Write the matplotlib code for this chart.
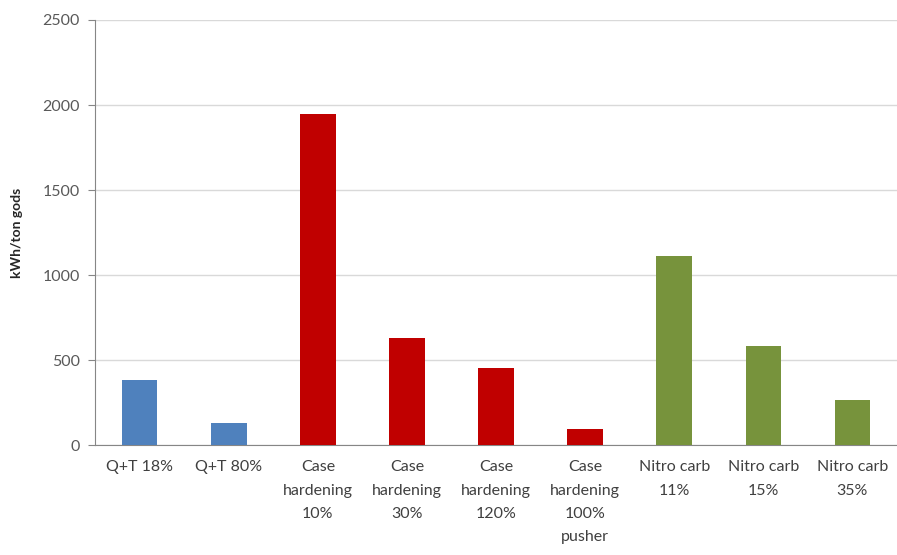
import matplotlib
matplotlib.use("Agg")
import matplotlib.pyplot as plt

categories = ["Q+T 18%", "Q+T 80%", "Case\nhardening\n10%", "Case\nhardening\n30%",
              "Case\nhardening\n120%", "Case\nhardening\n100%\npusher",
              "Nitro carb\n11%", "Nitro carb\n15%", "Nitro carb\n35%"]
values = [385, 130, 1950, 630, 455, 95, 1115, 585, 265]
colors = ["#4F81BD", "#4F81BD", "#C00000", "#C00000", "#C00000", "#C00000",
          "#77933C", "#77933C", "#77933C"]
yticks = [0, 500, 1000, 1500, 2000, 2500]
ylabel = "kWh/ton gods"

plt.rcParams['font.family'] = ['Lato', 'DejaVu Sans']

fig = plt.figure(figsize=(8.97, 5.55), dpi=100)
ax = fig.add_axes([0.106, 0.198, 0.894, 0.766])
x = list(range(len(categories)))
ax.bar(x, values, width=0.4, color=colors, zorder=3)
ax.set_xlim(-0.5, len(categories) - 0.5)
ax.set_ylim(0, 2500)
ax.set_yticks(yticks)
ax.set_yticklabels([str(v) for v in yticks], fontsize=11.5, color="#595959")
ax.set_xticks(x)
ax.set_xticklabels(categories, fontsize=11.5, color="#404040", linespacing=1.85, va="top")
ax.tick_params(axis="x", length=0, pad=11)
ax.tick_params(axis="y", length=5, color="#868686", pad=6)
ax.grid(axis="y", color="#D9D9D9", linewidth=1, zorder=0)
for s in ["top", "right"]:
    ax.spines[s].set_visible(False)
for s in ["left", "bottom"]:
    ax.spines[s].set_color("#868686")
ax.set_ylabel(ylabel, fontsize=10, fontweight="bold", color="#262626", labelpad=14)
fig.savefig("out.png", dpi=100)
